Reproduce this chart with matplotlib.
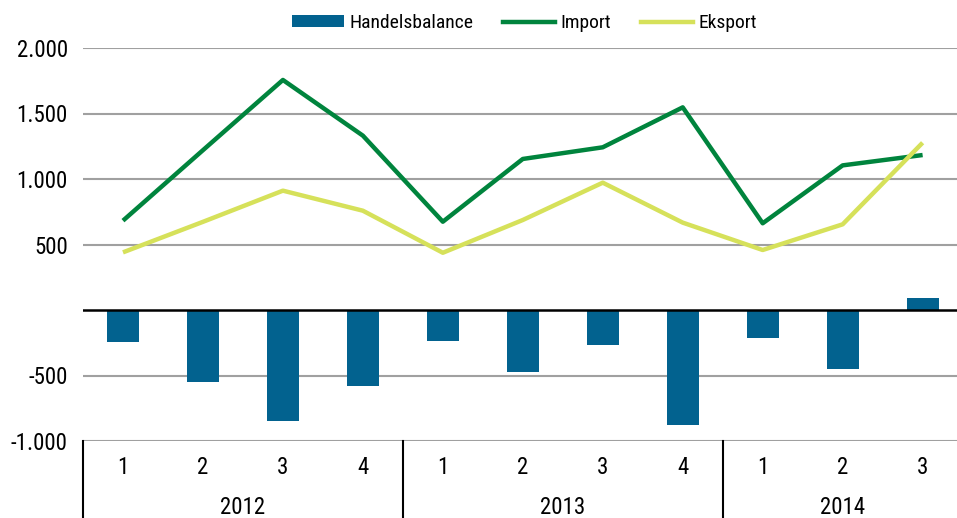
import numpy as np
import matplotlib
matplotlib.use("Agg")
from matplotlib import pyplot as plt
from matplotlib.patches import Patch
from matplotlib.lines import Line2D

plt.rcParams["font.family"] = ["Liberation Sans Narrow", "Roboto Condensed", "Lato", "DejaVu Sans"]

years = ["2012", "2013", "2014"]
quarters = ["1", "2", "3", "4", "1", "2", "3", "4", "1", "2", "3"]
handelsbalance = [-244, -547, -845, -578, -237, -471, -270, -880, -211, -450, 89]
import_vals = [682, 1220, 1756, 1331, 674, 1153, 1242, 1547, 662, 1104, 1183]
eksport_vals = [440, 673, 911, 758, 437, 687, 972, 667, 458, 654, 1277]

c_bar = "#02628f"
c_imp = "#00843d"
c_eks = "#d6e15a"

fig = plt.figure(figsize=(9.57, 5.18), dpi=100)
ax = fig.add_axes([83 / 957, 1 - 441 / 518, 874 / 957, 393 / 518])

x = np.arange(len(quarters))
ax.bar(x, handelsbalance, width=0.4, color=c_bar, zorder=2)
ax.plot(x, import_vals, color=c_imp, lw=3.2, zorder=3, solid_capstyle="butt")
ax.plot(x, eksport_vals, color=c_eks, lw=3.2, zorder=3, solid_capstyle="butt")

ax.set_xlim(-0.5, 10.43)
ax.set_ylim(-1000, 2000)
yt = [-1000, -500, 0, 500, 1000, 1500, 2000]
ax.set_yticks(yt)
ax.set_yticklabels([("" if v == 0 else f"{v:,}".replace(",", ".")) for v in yt], fontsize=16.5)
ax.tick_params(axis="y", length=0, pad=11)
ax.set_xticks([])
for s in ax.spines.values():
    s.set_visible(False)
for v in yt:
    if v != 0:
        ax.axhline(v, color="#a0a0a0", lw=1.5, zorder=1)
ax.axhline(0, color="black", lw=1.8, zorder=4)

# multi-level category axis
tr = ax.get_xaxis_transform()
for i, q in enumerate(quarters):
    ax.text(i, -0.068, q, transform=tr, ha="center", va="center", fontsize=16.5)
for k, yr in enumerate(years):
    start = k * 4
    end = min(start + 4, len(quarters)) - 1
    ax.text((start + end) / 2, -0.168, yr, transform=tr, ha="center", va="center", fontsize=16.5)
for sep in [-0.5, 3.5, 7.5]:
    ax.plot([sep, sep], [0, -0.2], transform=tr, color="black", lw=1.5, clip_on=False)

handles = [
    Patch(facecolor=c_bar, label="Handelsbalance"),
    Line2D([0], [0], color=c_imp, lw=3.2, label="Import"),
    Line2D([0], [0], color=c_eks, lw=3.2, label="Eksport"),
]
fig.legend(handles=handles, loc="center", bbox_to_anchor=(0.548, 1 - 23 / 518), ncol=3,
           frameon=False, fontsize=14, handlelength=2.68, handleheight=0.57,
           handletextpad=0.3, columnspacing=1.5)

fig.savefig("out.png", dpi=100)
